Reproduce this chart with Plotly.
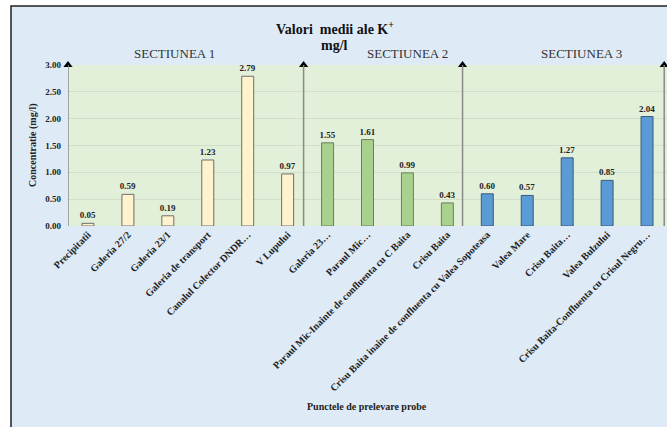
import plotly.graph_objects as go

# Sampling points, grouped by section
labels_s1 = ["Precipitatii", "Galeria 27/2", "Galeria 23/1", "Galeria de transport",
             "Canalul Colector DNDR…", "V Lupului"]
labels_s2 = ["Galeria 23…", "Paraul Mic…", "Paraul Mic-Inainte de confluenta cu C Baita",
             "Crisu Baita"]
labels_s3 = ["Crisu Baita inaine de confluenta cu Valea Sopoteasa", "Valea Mare",
             "Crisu Baita…", "Valea Bulzului", "Crisu Baita-Confluenta cu Crisul Negru…"]

# Mean K+ concentration (mg/l)
values_s1 = [0.05, 0.59, 0.19, 1.23, 2.79, 0.97]
values_s2 = [1.55, 1.61, 0.99, 0.43]
values_s3 = [0.60, 0.57, 1.27, 0.85, 2.04]

section_names = ["SECTIUNEA 1", "SECTIUNEA 2", "SECTIUNEA 3"]
y_ticks = [0, 0.5, 1.0, 1.5, 2.0, 2.5, 3.0]

labels = labels_s1 + labels_s2 + labels_s3
n1, n2, n3 = len(labels_s1), len(labels_s2), len(labels_s3)
x1 = list(range(n1))
x2 = list(range(n1, n1 + n2))
x3 = list(range(n1 + n2, n1 + n2 + n3))

FONT = "Liberation Serif, Times New Roman, serif"
W, H = 667, 427
ML, MR, MT, MB = 68, 0, 65, 201
PW = W - ML - MR
PH = H - MT - MB


def px_x(p):
    return (p - ML) / PW


def px_y(p):
    return (H - MB - p) / PH


def note(text, cx, cy, size, color="#222", angle=0):
    fig.add_annotation(xref="paper", yref="paper", x=px_x(cx), y=px_y(cy),
                       xanchor="center", yanchor="middle", showarrow=False,
                       text=text, textangle=angle,
                       font=dict(family=FONT, size=size, color=color))


fig = go.Figure()

bar_style = dict(width=0.3, textposition="outside", texttemplate="%{y:.2f}",
                 constraintext="none",
                 textfont=dict(family=FONT, size=9, color="#222", weight="bold"),
                 cliponaxis=False, hoverinfo="skip", showlegend=False)
fig.add_trace(go.Bar(x=x1, y=values_s1, marker=dict(color="#fff2cc", line=dict(color="#6e6e6e", width=1)), **bar_style))
fig.add_trace(go.Bar(x=x2, y=values_s2, marker=dict(color="#a9d18e", line=dict(color="#6a7f5c", width=1)), **bar_style))
fig.add_trace(go.Bar(x=x3, y=values_s3, marker=dict(color="#5b9bd5", line=dict(color="#3d5a78", width=1)), **bar_style))

# Section boundaries: vertical lines topped with arrow heads
sep_x = [-0.5, n1 - 0.6, n1 + n2 - 0.62, n1 + n2 + n3 - 0.57]
for sx in sep_x:
    fig.add_shape(type="line", xref="x", yref="y", x0=sx, x1=sx, y0=-0.02, y1=3.0,
                  line=dict(color="#8a8a8a", width=1.5), layer="above")
fig.add_trace(go.Scatter(x=sep_x, y=[3.0] * len(sep_x), mode="markers",
                         marker=dict(symbol="triangle-up", size=8, color="black"),
                         cliponaxis=False, hoverinfo="skip", showlegend=False))

# Outer frame of the chart area
fig.add_shape(type="rect", xref="paper", yref="paper", x0=-0.2, x1=px_x(11), y0=-3, y1=2,
              fillcolor="white", line=dict(width=0), layer="above")
fig.add_shape(type="rect", xref="paper", yref="paper", x0=-0.2, x1=1.2, y0=px_y(6), y1=2,
              fillcolor="white", line=dict(width=0), layer="above")
fig.add_shape(type="rect", xref="paper", yref="paper", x0=px_x(11), x1=1.2, y0=-3, y1=px_y(6),
              fillcolor="rgba(0,0,0,0)", line=dict(color="#222", width=1.5), layer="above")

# Titles
note("<b>Valori  medii ale K<sup>+</sup></b>", 335, 28, 14, "#111")
note("<b>mg/l</b>", 334, 45, 14, "#111")
for name, cx in zip(section_names, [174, 407, 581]):
    note(name, cx, 53, 13, "#333")
note("<b>Concentratie (mg/l)</b>", 33, 145, 10, angle=-90)
note("<b>Punctele de prelevare probe</b>", 367, 407, 10)

fig.update_layout(
    width=W, height=H,
    margin=dict(l=ML, r=MR, t=MT, b=MB),
    paper_bgcolor="#deebf7",
    plot_bgcolor="#e2efd9",
    bargap=0.7,
    xaxis=dict(range=[-0.5, len(labels) - 0.5], tickmode="array", tickvals=list(range(len(labels))),
               ticktext=labels, tickangle=-45, showgrid=False, zeroline=False, showline=False,
               ticks="", tickfont=dict(family=FONT, size=10, color="#222", weight="bold"),
               fixedrange=True),
    yaxis=dict(range=[0, 3.0], tickmode="array", tickvals=y_ticks, tickformat=".2f",
               showgrid=True, gridcolor="#d2dec9", gridwidth=1, zeroline=False, showline=False,
               ticks="", ticklabelstandoff=6,
               tickfont=dict(family=FONT, size=9, color="#222", weight="bold"), fixedrange=True),
)

fig.write_html("out.html")
